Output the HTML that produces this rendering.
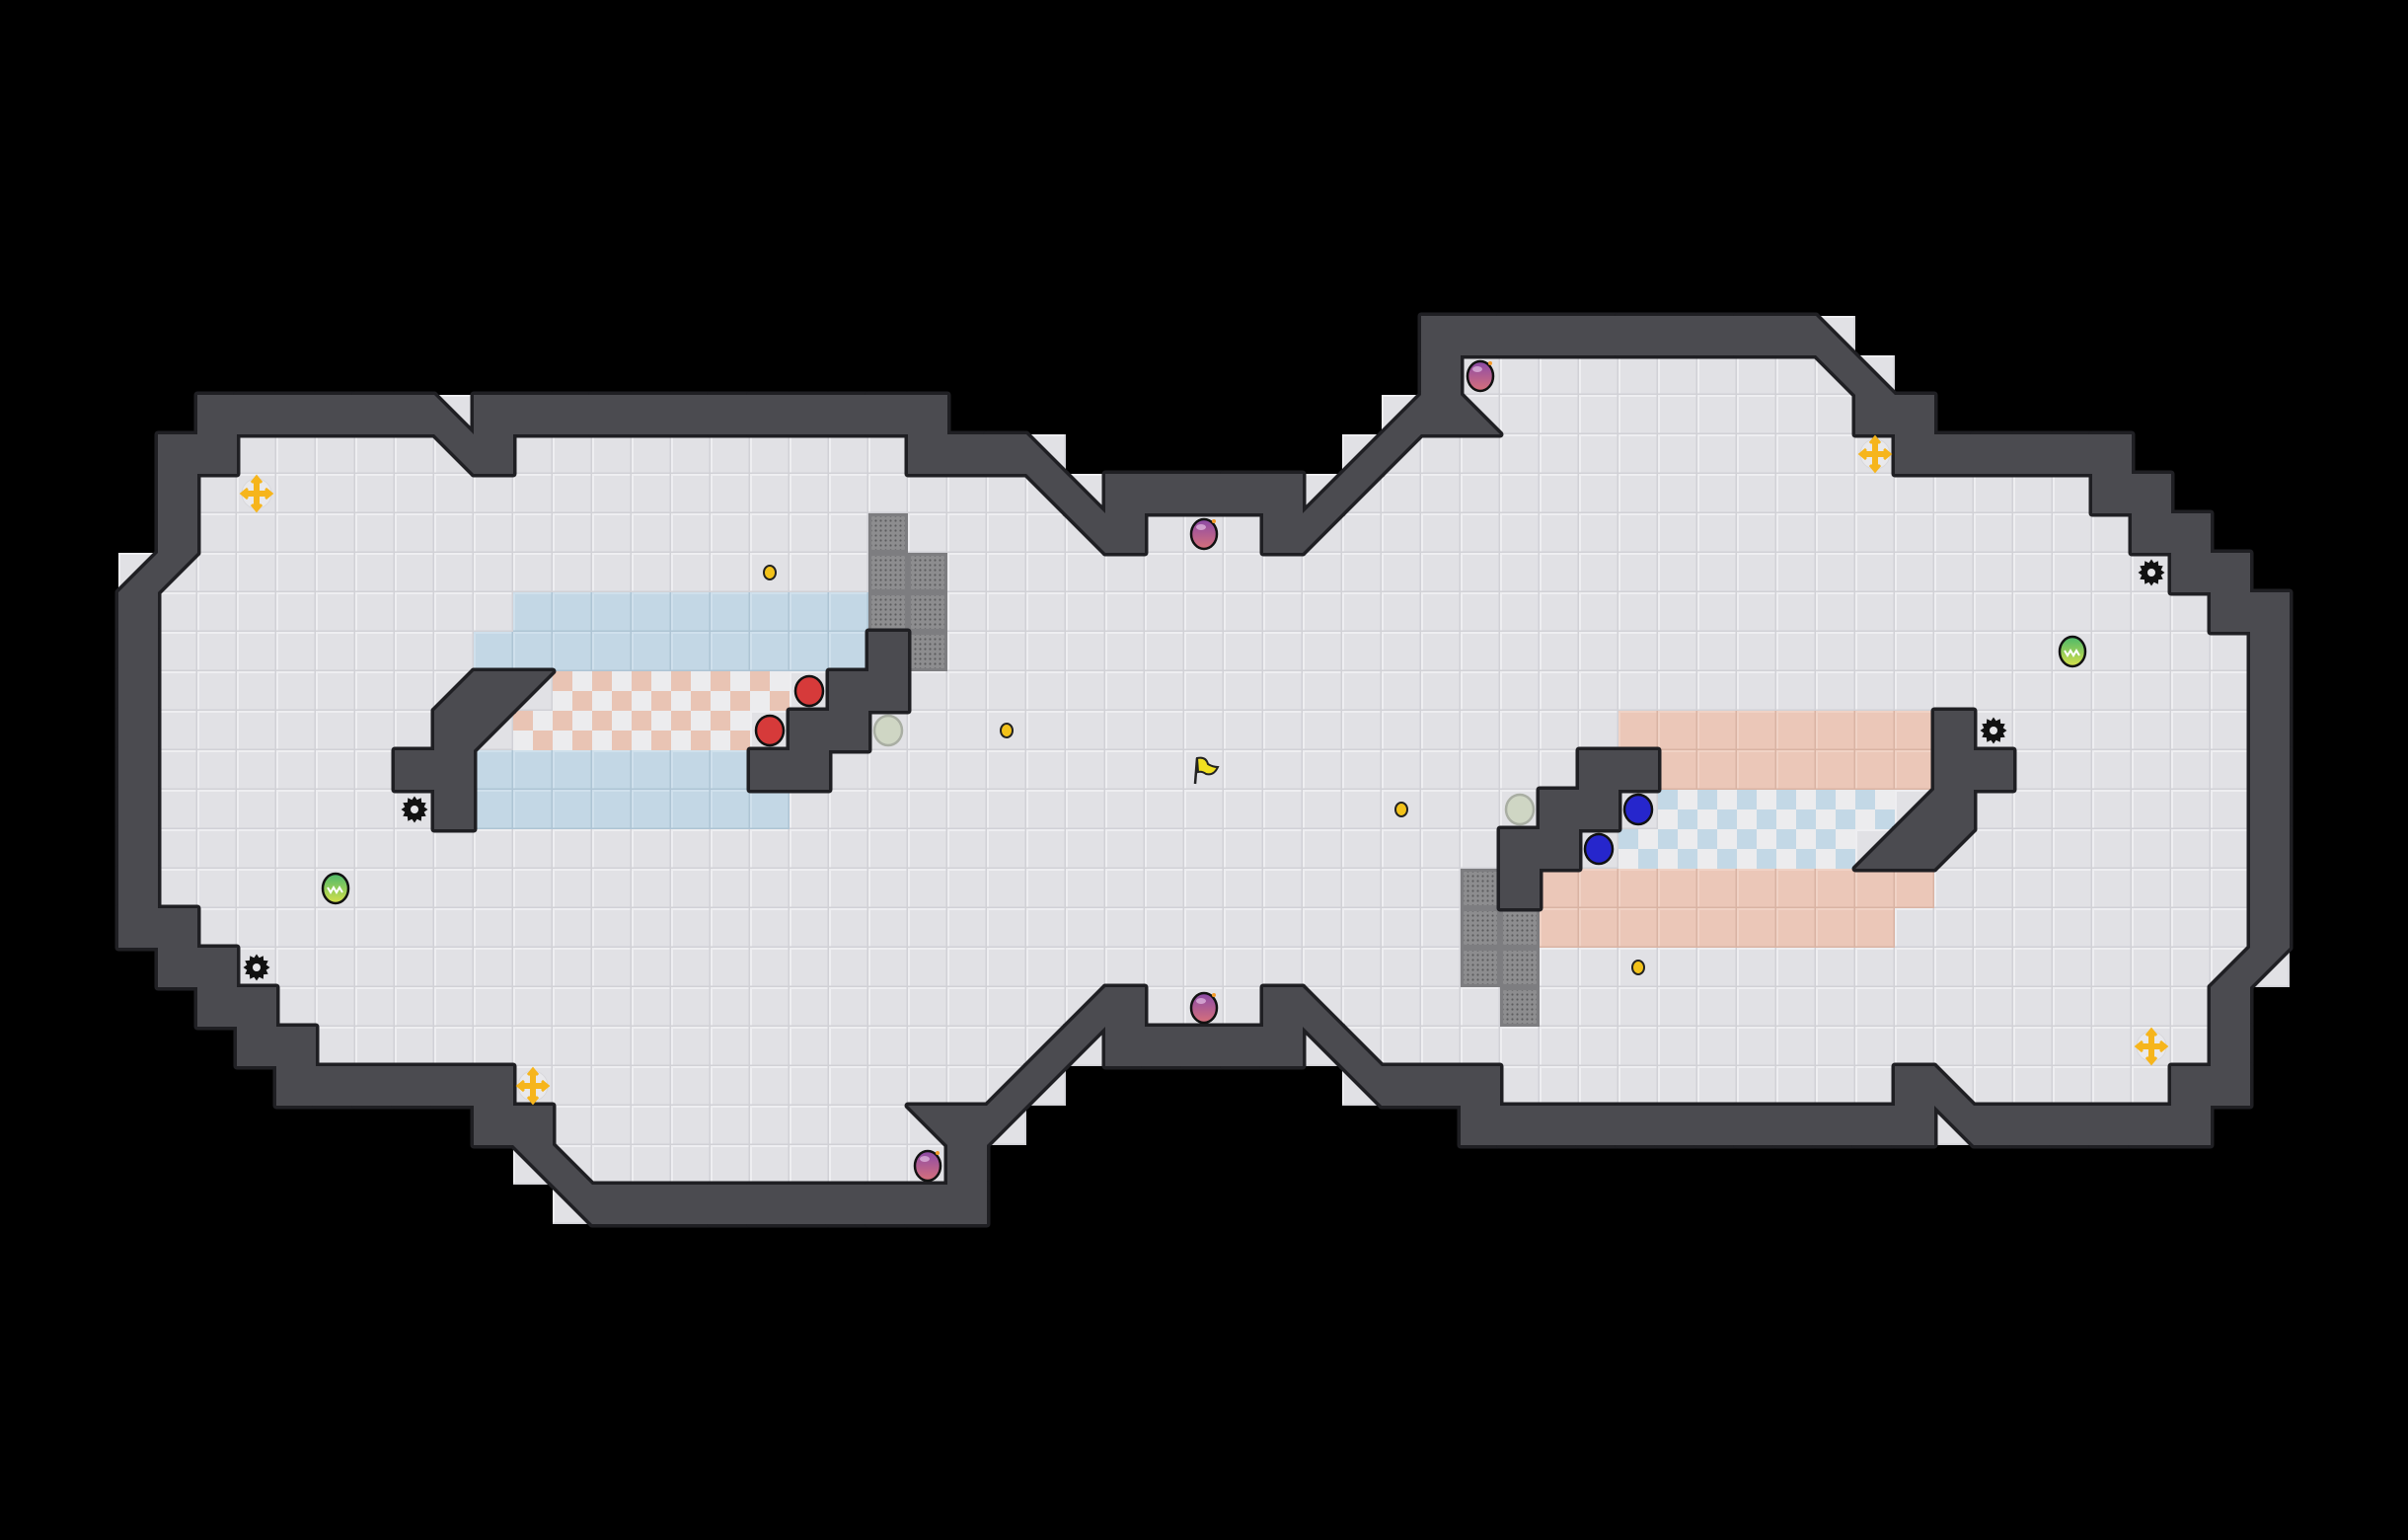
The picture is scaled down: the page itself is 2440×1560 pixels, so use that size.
<!DOCTYPE html>
<html><head><meta charset="utf-8">
<style>
html,body{margin:0;padding:0;background:#000;width:2440px;height:1560px;overflow:hidden}
svg{display:block}
</style></head>
<body>
<div id="root"></div>
<script>
const T=40, W=61, H=39;
const L=Array.from({length:H},()=>Array(31).fill(' '));
function s(r,c1,c2,ch){for(let c=c1;c<=c2;c++)L[r][c]=ch;}
s(10,5,10,'#');s(10,11,11,'D');s(10,12,23,'#');
s(11,4,5,'#');s(11,6,10,'.');s(11,11,11,'B');s(11,12,12,'#');s(11,13,22,'.');s(11,23,25,'#');s(11,26,26,'D');
s(12,4,4,'#');s(12,5,25,'.');s(12,26,26,'B');s(12,27,27,'D');s(12,28,30,'#');
s(13,4,4,'#');s(13,5,26,'.');s(13,22,22,'g');s(13,27,27,'B');s(13,28,28,'#');s(13,29,30,'.');
s(14,3,3,'C');s(14,4,4,'A');s(14,5,30,'.');s(14,22,23,'g');
s(15,3,3,'#');s(15,4,30,'.');s(15,13,21,'b');s(15,22,23,'g');
s(16,3,3,'#');s(16,4,30,'.');s(16,12,21,'b');s(16,22,22,'#');s(16,23,23,'g');
s(17,3,3,'#');s(17,4,30,'.');s(17,11,11,'C');s(17,12,12,'#');s(17,13,13,'A');s(17,14,19,'r');s(17,21,22,'#');
s(18,3,3,'#');s(18,4,30,'.');s(18,11,11,'#');s(18,12,12,'A');s(18,13,18,'r');s(18,20,21,'#');
s(19,3,3,'#');s(19,4,30,'.');s(19,10,11,'#');s(19,12,18,'b');s(19,19,20,'#');
s(20,3,3,'#');s(20,4,30,'.');s(20,11,11,'#');s(20,12,19,'b');
s(21,3,3,'#');s(21,4,30,'.');
s(22,3,3,'#');s(22,4,30,'.');
s(23,3,4,'#');s(23,5,30,'.');
s(24,4,5,'#');s(24,6,30,'.');
s(25,5,6,'#');s(25,7,30,'.');s(25,27,27,'C');s(25,28,28,'#');
s(26,6,7,'#');s(26,8,25,'.');s(26,26,26,'C');s(26,27,27,'A');s(26,28,30,'#');
s(27,7,12,'#');s(27,13,24,'.');s(27,25,25,'C');s(27,26,26,'A');
s(28,12,13,'#');s(28,14,22,'.');s(28,23,23,'B');s(28,24,24,'#');s(28,25,25,'A');
s(29,13,13,'B');s(29,14,14,'D');s(29,15,23,'.');s(29,24,24,'#');
s(30,14,14,'B');s(30,15,24,'#');
const rot={A:'C',C:'A',B:'D',D:'B',b:'s',r:'q'};
function cell(c,r){
  if(c<=30) return L[r][c];
  const v=L[38-r][60-c]; return rot[v]||v;
}
let floors='', walls='', over='';
function tri(x,y,t){
  if(t==='A')return `${x},${y} ${x+T},${y} ${x},${y+T}`;
  if(t==='B')return `${x},${y} ${x+T},${y} ${x+T},${y+T}`;
  if(t==='C')return `${x+T},${y} ${x+T},${y+T} ${x},${y+T}`;
  return `${x},${y} ${x},${y+T} ${x+T},${y+T}`;
}
for(let r=0;r<H;r++)for(let c=0;c<W;c++){
  const v=cell(c,r), x=c*T, y=r*T;
  if(v===' ')continue;
  if(v==='#'){walls+=`<rect x="${x}" y="${y}" width="${T}" height="${T}"/>`;continue;}
  let f='fl';
  if(v==='b')f='bl'; else if(v==='s')f='sa'; else if(v==='r')f='rc'; else if(v==='q')f='qc'; else if(v==='g')f='gt';
  floors+=`<rect x="${x}" y="${y}" width="${T}" height="${T}" fill="url(#${f})"/>`;
  if('ABCD'.includes(v)) walls+=`<polygon points="${tri(x,y,v)}"/>`;
}
function P(c,r){return [c*T+20,r*T+20];}
function boost(c,r){const[x,y]=P(c,r);return `<g><circle cx="${x}" cy="${y}" r="15" fill="#e9e9ec" stroke="#d8d8dc" stroke-width="1"/><path d="M${x-13} ${y}H${x+13}M${x} ${y-16}V${y+16}" stroke="#f6b51c" stroke-width="6"/><path d="M${x+9} ${y-5}L${x+15} ${y}L${x+9} ${y+5}M${x-9} ${y-5}L${x-15} ${y}L${x-9} ${y+5}M${x-5} ${y-11}L${x} ${y-17}L${x+5} ${y-11}M${x-5} ${y+11}L${x} ${y+17}L${x+5} ${y+11}" stroke="#f6b51c" stroke-width="3" fill="none"/></g>`;}
function gear(c,r){const[x,y]=P(c,r);let p='';for(let i=0;i<24;i++){const a=i*Math.PI/12, rr=i%2?10:13.5;p+=`${(x+rr*Math.cos(a)).toFixed(1)},${(y+rr*Math.sin(a)).toFixed(1)} `;}return `<polygon points="${p}" fill="#111"/><circle cx="${x}" cy="${y}" r="4" fill="#e6e6e9"/>`;}
function ball(c,r,fill,stroke){const[x,y]=P(c,r);return `<ellipse cx="${x}" cy="${y}" rx="14" ry="15" fill="${fill}" stroke="${stroke||'#111'}" stroke-width="2.5"/>`;}
function purple(c,r){const[x,y]=P(c,r);return `<ellipse cx="${x}" cy="${y+1}" rx="13" ry="15" fill="url(#pg)" stroke="#111" stroke-width="2.5"/><circle cx="${x+10}" cy="${y-12}" r="2" fill="#f49a2a"/><ellipse cx="${x-3}" cy="${y-6}" rx="5" ry="3" fill="#f0d0f0" opacity="0.6"/>`;}
function green(c,r){const[x,y]=P(c,r);return `<ellipse cx="${x}" cy="${y}" rx="13" ry="15" fill="url(#gg)" stroke="#111" stroke-width="2.5"/><path d="M${x-8} ${y-1}L${x-5} ${y+4}L${x-2} ${y-1}L${x+1} ${y+4}L${x+4} ${y-1}L${x+7} ${y+4}" stroke="#fff" stroke-width="2" fill="none"/>`;}
function dot(c,r){const[x,y]=P(c,r);return `<ellipse cx="${x}" cy="${y}" rx="6" ry="7" fill="#f2c21a" stroke="#222" stroke-width="2"/>`;}
const items=[];
// left
items.push(boost(6,12),boost(13,27),gear(10,20),gear(6,24),green(8,22),purple(30,13),purple(30,25),purple(23,29),dot(19,14),dot(25,18),
 ball(20,17,'#d63a3a'),ball(19,18,'#d63a3a'),ball(22,18,'#cfd6c4','#a9aea3'));
// right (rotated)
items.push(boost(54,26),boost(47,11),gear(50,18),gear(54,14),green(52,16),purple(37,9),dot(41,24),dot(35,20),
 ball(40,21,'#2626cc'),ball(41,20,'#2626cc'),ball(38,20,'#cfd6c4','#a9aea3'));
// flag
const[fx,fy]=P(30,19);
items.push(`<path d="M${fx-9} ${fy+14}L${fx-7} ${fy-12}" stroke="#222" stroke-width="2.5"/><path d="M${fx-7} ${fy-12}Q${fx+2} ${fy-14} ${fx+4} ${fy-6}Q${fx+9} ${fy-3} ${fx+14} ${fy-3}Q${fx+10} ${fy+6} ${fx+2} ${fy+4}Q${fx-2} ${fy+1} ${fx-6} ${fy+2}Z" fill="#f1e020" stroke="#222" stroke-width="2"/>`);
const defs=`<defs>
<pattern id="fl" patternUnits="userSpaceOnUse" width="40" height="40"><rect width="40" height="40" fill="#e1e1e5"/><rect width="40" height="2" fill="#eeeef1"/><rect width="2" height="40" fill="#eeeef1"/><rect y="38.5" width="40" height="1.5" fill="#d1d1d6"/><rect x="38.5" width="1.5" height="40" fill="#d1d1d6"/></pattern>
<pattern id="bl" patternUnits="userSpaceOnUse" width="40" height="40"><rect width="40" height="40" fill="#c3d7e5"/><rect width="40" height="2" fill="#cfe0ec"/><rect width="2" height="40" fill="#cfe0ec"/><rect y="38.5" width="40" height="1.5" fill="#aec4d4"/><rect x="38.5" width="1.5" height="40" fill="#aec4d4"/></pattern>
<pattern id="sa" patternUnits="userSpaceOnUse" width="40" height="40"><rect width="40" height="40" fill="#ebc7b8"/><rect width="40" height="2" fill="#f0d2c5"/><rect width="2" height="40" fill="#f0d2c5"/><rect y="38.5" width="40" height="1.5" fill="#d9b3a3"/><rect x="38.5" width="1.5" height="40" fill="#d9b3a3"/></pattern>
<pattern id="rc" patternUnits="userSpaceOnUse" width="40" height="40"><rect width="40" height="40" fill="#ececee"/><rect width="20" height="20" fill="#e9c4b4"/><rect x="20" y="20" width="20" height="20" fill="#e9c4b4"/></pattern>
<pattern id="qc" patternUnits="userSpaceOnUse" width="40" height="40"><rect width="40" height="40" fill="#ececee"/><rect width="20" height="20" fill="#c3d8e6"/><rect x="20" y="20" width="20" height="20" fill="#c3d8e6"/></pattern>
<pattern id="gd" patternUnits="userSpaceOnUse" width="5" height="5"><rect width="5" height="5" fill="#8d8d8f"/><circle cx="2.5" cy="2.5" r="1.1" fill="#5c5c5e"/></pattern>
<pattern id="gt" patternUnits="userSpaceOnUse" width="40" height="40"><rect width="40" height="40" fill="#7d7d80"/><rect x="3" y="3" width="34" height="34" fill="url(#gd)"/></pattern>
<linearGradient id="pg" x1="0" y1="0" x2="0" y2="1"><stop offset="0" stop-color="#8b4aa8"/><stop offset="1" stop-color="#d7707a"/></linearGradient>
<linearGradient id="gg" x1="0" y1="0" x2="0" y2="1"><stop offset="0" stop-color="#4bb86a"/><stop offset="1" stop-color="#d6e04a"/></linearGradient>
</defs>`;
document.getElementById('root').innerHTML=`<svg xmlns="http://www.w3.org/2000/svg" width="2440" height="1560" viewBox="0 0 2440 1560">${defs}<rect width="2440" height="1560" fill="#000"/>${floors}<g fill="#1f1f23" stroke="#1f1f23" stroke-width="7" stroke-linejoin="round">${walls}</g><g fill="#4b4b50">${walls}</g>${items.join('')}</svg>`;
</script>
</body></html>
